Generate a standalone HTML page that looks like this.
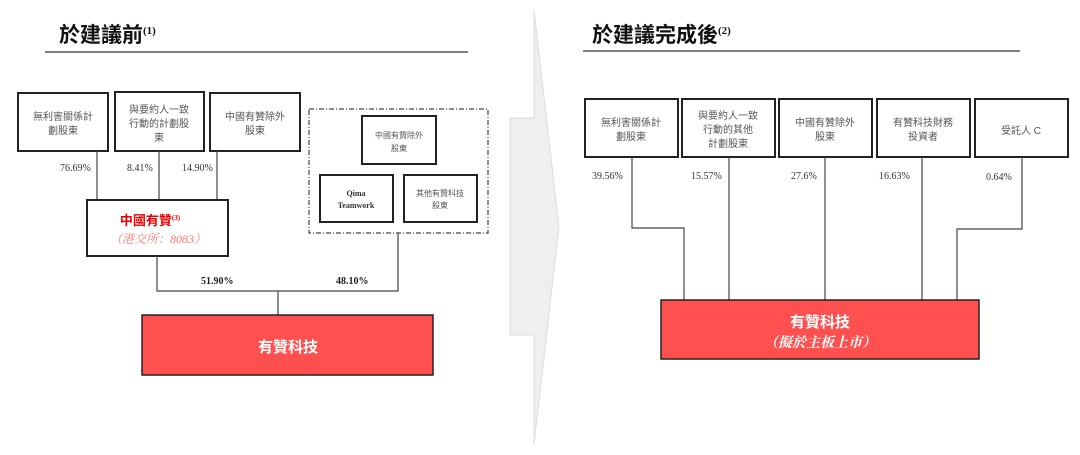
<!DOCTYPE html>
<html><head><meta charset="utf-8"><style>
html,body{margin:0;padding:0;background:#fff;}
svg{display:block;}
text{font-family:"Liberation Serif","Noto Serif CJK SC","Noto Sans CJK TC",serif;}
.s{font-family:"Liberation Sans","Noto Sans CJK TC",sans-serif;}
.bx{fill:#fff;stroke:#222;stroke-width:2;}
.ln{stroke:#444;stroke-width:1.2;fill:none;}
.lb{font-size:10px;fill:#555;}
.pc{font-size:10px;fill:#333;}
</style></head><body>
<svg width="1080" height="455" viewBox="0 0 1080 455" xmlns="http://www.w3.org/2000/svg">
<!-- arrow -->
<polygon points="510,118 534,118 534,10 559,227 534,445 534,335 510,335" fill="#efefef" stroke="#ddd" stroke-width="1"/>

<!-- left title -->
<text x="59" y="42" font-size="21" font-weight="bold" class="s" fill="#111">於建議前<tspan font-size="11" dy="-8" font-family="Liberation Serif">(1)</tspan></text>
<line x1="45" y1="52" x2="468" y2="52" stroke="#555" stroke-width="1.5"/>

<rect class="bx" x="18" y="93" width="90" height="58"/>
<text class="lb s" text-anchor="middle"><tspan x="63" y="120">無利害關係計</tspan><tspan x="63" y="134">劃股東</tspan></text>
<rect class="bx" x="115" y="92" width="89" height="59"/>
<text class="lb s" text-anchor="middle"><tspan x="159" y="113">與要約人一致</tspan><tspan x="159" y="127">行動的計劃股</tspan><tspan x="159" y="141">東</tspan></text>
<rect class="bx" x="210" y="93" width="90" height="58"/>
<text class="lb s" text-anchor="middle"><tspan x="255" y="120">中國有贊除外</tspan><tspan x="255" y="134">股東</tspan></text>

<rect x="309" y="109" width="179" height="124" fill="none" stroke="#444" stroke-width="1.2" stroke-dasharray="5,2,1,2"/>
<rect class="bx" x="362" y="116" width="74" height="48"/>
<text class="s" font-size="8" fill="#555" text-anchor="middle"><tspan x="399" y="138">中國有贊除外</tspan><tspan x="399" y="151">股東</tspan></text>
<rect class="bx" x="320" y="175" width="73" height="47"/>
<text font-size="8" fill="#333" text-anchor="middle" font-weight="bold"><tspan x="356" y="196">Qima</tspan><tspan x="356" y="208">Teamwork</tspan></text>
<rect class="bx" x="404" y="175" width="73" height="47"/>
<text class="s" font-size="8" fill="#555" text-anchor="middle"><tspan x="440" y="196">其他有贊科技</tspan><tspan x="440" y="208">股東</tspan></text>

<line class="ln" x1="97" y1="151" x2="97" y2="200"/>
<line class="ln" x1="159" y1="151" x2="159" y2="200"/>
<line class="ln" x1="217" y1="151" x2="217" y2="200"/>
<text class="pc" x="60" y="171">76.69%</text>
<text class="pc" x="127" y="171">8.41%</text>
<text class="pc" x="182" y="171">14.90%</text>

<rect class="bx" x="87" y="200" width="141" height="56"/>
<text x="150" y="225" font-size="13" font-weight="bold" fill="#e00" text-anchor="middle" class="s">中國有贊<tspan font-size="7" dy="-5" font-family="Liberation Serif">(3)</tspan></text>
<text x="158" y="243" font-size="12" font-style="italic" fill="#f77" text-anchor="middle">（港交所：8083）</text>

<polyline class="ln" points="157,256 157,291 398,291 398,233"/>
<line class="ln" x1="278" y1="291" x2="278" y2="316"/>
<text x="201" y="284" font-size="10" font-weight="bold" fill="#222">51.90%</text>
<text x="336" y="284" font-size="10" font-weight="bold" fill="#222">48.10%</text>

<rect x="142" y="315" width="291" height="60" fill="#ff5050" stroke="#222" stroke-width="1.5"/>
<text x="288" y="352" font-size="15" font-weight="bold" fill="#fff" text-anchor="middle" class="s">有贊科技</text>

<!-- right -->
<text x="592" y="42" font-size="21" font-weight="bold" class="s" fill="#111">於建議完成後<tspan font-size="11" dy="-8" font-family="Liberation Serif">(2)</tspan></text>
<line x1="583" y1="51" x2="1020" y2="51" stroke="#555" stroke-width="1.5"/>

<rect class="bx" x="585" y="99" width="93" height="58"/>
<text class="lb s" text-anchor="middle"><tspan x="631" y="126">無利害關係計</tspan><tspan x="631" y="140">劃股東</tspan></text>
<rect class="bx" x="682" y="99" width="93" height="58"/>
<text class="lb s" text-anchor="middle"><tspan x="728" y="119">與要約人一致</tspan><tspan x="728" y="133">行動的其他</tspan><tspan x="728" y="147">計劃股東</tspan></text>
<rect class="bx" x="779" y="99" width="93" height="58"/>
<text class="lb s" text-anchor="middle"><tspan x="825" y="126">中國有贊除外</tspan><tspan x="825" y="140">股東</tspan></text>
<rect class="bx" x="877" y="99" width="93" height="58"/>
<text class="lb s" text-anchor="middle"><tspan x="923" y="126">有贊科技財務</tspan><tspan x="923" y="140">投資者</tspan></text>
<rect class="bx" x="975" y="99" width="93" height="58"/>
<text class="lb s" x="1021" y="134" text-anchor="middle">受託人 C</text>

<text class="pc" x="592" y="179">39.56%</text>
<text class="pc" x="691" y="179">15.57%</text>
<text class="pc" x="791" y="179">27.6%</text>
<text class="pc" x="879" y="179">16.63%</text>
<text class="pc" x="986" y="180">0.64%</text>

<polyline class="ln" points="632,157 632,228 684,228 684,300"/>
<line class="ln" x1="729" y1="157" x2="729" y2="300"/>
<line class="ln" x1="825" y1="157" x2="825" y2="300"/>
<line class="ln" x1="922" y1="157" x2="922" y2="300"/>
<polyline class="ln" points="1022,157 1022,229 957,229 957,300"/>

<rect x="661" y="300" width="318" height="59" fill="#ff5050" stroke="#222" stroke-width="1.5"/>
<text x="820" y="327" font-size="15" font-weight="bold" fill="#fff" text-anchor="middle" class="s">有贊科技</text>
<text x="820" y="347" font-size="14" font-weight="bold" font-style="italic" fill="#fff" text-anchor="middle">（擬於主板上市）</text>
</svg>
</body></html>
